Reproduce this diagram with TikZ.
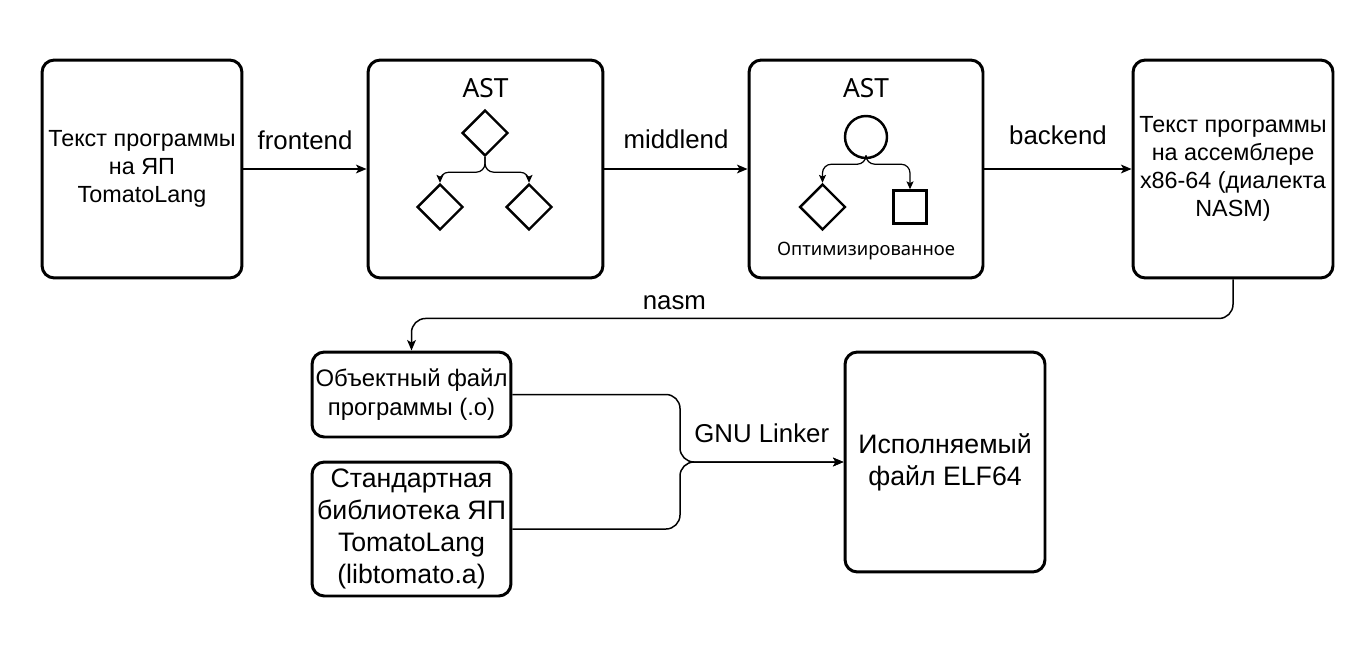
\documentclass[tikz,border=0pt]{standalone}
\usepackage{fontspec}
\setmainfont{Liberation Sans}
\newfontfamily\astfont{Noto Sans}
\usepackage{tikz}
\usetikzlibrary{arrows.meta,positioning,shapes.geometric}

\begin{document}
\begin{tikzpicture}[x=0.02cm, y=-0.02cm,
  stage/.style={draw=black, line width=1.7pt, rounded corners=7pt,
    align=center, inner sep=0pt, fill=white,
    font=\fontsize{13.3}{16}\selectfont},
  bigstage/.style={stage, font=\fontsize{15.2}{18.1}\selectfont},
  treebox/.style={stage, minimum width=4.7cm, minimum height=4.36cm},
  treenode/.style={draw=black, line width=1.4pt, inner sep=0pt,
    minimum width=0.92cm, minimum height=0.92cm},
  flow/.style={-{Stealth[length=6pt, width=5pt, inset=1.5pt]}, line width=0.85pt, draw=black},
  treelink/.style={-{Stealth[length=4.5pt, width=4pt, inset=1pt]}, line width=0.7pt,
    draw=black, rounded corners=5pt},
  lbl/.style={inner sep=0pt, font=\fontsize{14.7}{17}\selectfont}
]
\useasboundingbox (0,0) rectangle (1371,649);

% top row
\node[stage, minimum width=4cm, minimum height=4.36cm] (src) at (142,169)
  {Текст программы\\на ЯП\\TomatoLang};
\node[treebox] (ast) at (485.5,169) {};
\node[treebox, minimum width=4.68cm] (opt) at (866,169) {};
\node[stage, minimum width=4cm, minimum height=4.36cm] (asm) at (1233,169)
  {Текст программы\\на ассемблере\\x86-64 (диалекта\\NASM)};

% bottom row
\node[stage, minimum width=3.98cm, minimum height=1.7cm,
  font=\fontsize{13.6}{16.4}\selectfont] (obj) at (411.5,394.5)
  {Объектный файл\\программы (.o)};
\node[bigstage, minimum width=3.98cm, minimum height=2.68cm] (lib) at (411.5,529)
  {Стандартная\\библиотека ЯП\\TomatoLang\\(libtomato.a)};
\node[bigstage, minimum width=4cm, minimum height=4.4cm] (elf) at (945,462)
  {Исполняемый\\файл ELF64};

% AST
\node[font=\astfont\fontsize{15}{18}\selectfont] (astlbl) at (485.5,88) {AST};
\node[treenode, diamond, shape aspect=1] (a0) at (485,133) {};
\node[treenode, diamond, shape aspect=1] (a1) at (440,207) {};
\node[treenode, diamond, shape aspect=1] (a2) at (529,207) {};
\draw[treelink] (a0.south) -- ++(0,15) -| (a1.north);
\draw[treelink] (a0.south) -- ++(0,15) -| (a2.north);

% optimized AST
\node[font=\astfont\fontsize{15}{18}\selectfont] (optlbl) at (866,88) {AST};
\node[treenode, circle, minimum size=0.84cm] (o0) at (866,137) {};
\node[treenode, diamond, shape aspect=1] (o1) at (822.5,207) {};
\node[treenode, minimum width=0.66cm, minimum height=0.66cm] (o2) at (910,207) {};
\draw[treelink] (o0.south) -- ++(0,5) -| (o1.north);
\draw[treelink] (o0.south) -- ++(0,5) -| (o2.north);
\node[font=\astfont\fontsize{10.5}{12}\selectfont] (optnote) at (866,251) {Оптимизированное};

% pipeline
\draw[flow] (src) -- node[lbl, midway, above=10.5pt] {frontend} (ast);
\draw[flow] (ast) -- node[lbl, midway, above=11pt] {middlend} (opt);
\draw[flow] (opt) -- node[lbl, midway, above=13.5pt] {backend} (asm);
\draw[flow, rounded corners=8pt] (asm.south) -- ++(0,39)
  -| node[lbl, pos=0.34, above=4.5pt] {nasm} (obj.north);

% linking
\coordinate (join) at (680,462);
\draw[flow, rounded corners=8pt] (obj.east) -| (join) -- (elf.west);
\draw[flow, rounded corners=8pt] (lib.east) -| (join)
  -- node[lbl, midway, above=10.5pt] {GNU Linker} (elf.west);
\end{tikzpicture}
\end{document}
